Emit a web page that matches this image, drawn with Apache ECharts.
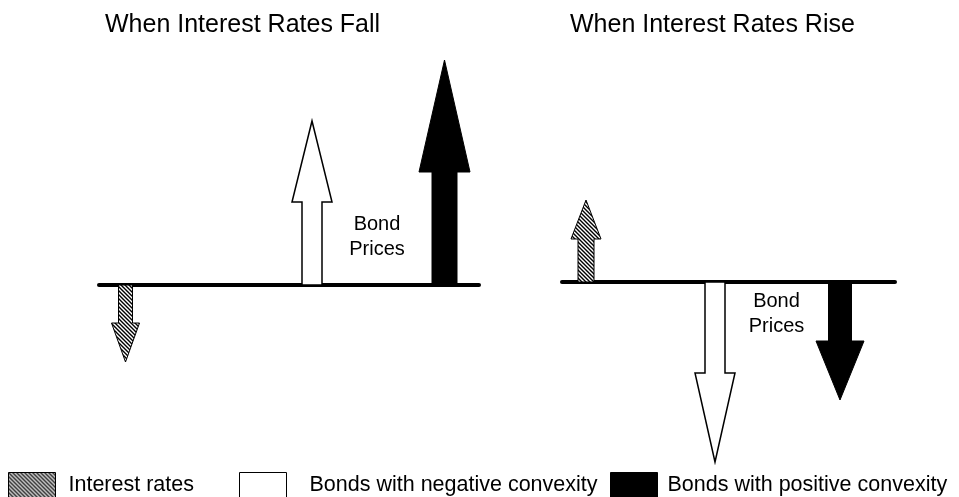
<!DOCTYPE html>
<html>
<head>
<meta charset="utf-8">
<title>Bond prices and convexity</title>
<script src="https://cdn.jsdelivr.net/npm/echarts@6/dist/echarts.min.js"></script>
<style>
html, body { margin: 0; padding: 0; background: #fff; }
#chart { width: 959px; height: 497px; }
</style>
</head>
<body>
<div id="chart"></div>
<script>
// size of each move, in chart units (about 1px each); up is +, down is -
const scenarios = ['When Interest Rates Fall', 'When Interest Rates Rise'];
const categories = ['Interest rates', 'Bonds with negative convexity', 'Bonds with positive convexity'];
const fallMoves = [-77, 164, 225];
const riseMoves = [82, -180, -118];
const priceLabel = 'Bond Prices';

const FONT = "'Liberation Sans', Arial, sans-serif";

function hatch() {
  const c = document.createElement('canvas');
  c.width = 4;
  c.height = 4;
  const ctx = c.getContext('2d');
  ctx.fillStyle = '#fff';
  ctx.fillRect(0, 0, 4, 4);
  ctx.strokeStyle = '#000';
  ctx.lineWidth = 1.4;
  ctx.beginPath();
  ctx.moveTo(-1, -1); ctx.lineTo(5, 5);
  ctx.moveTo(-1, 3); ctx.lineTo(1, 5);
  ctx.moveTo(3, -1); ctx.lineTo(5, 1);
  ctx.stroke();
  return c;
}

const hatchFill = { image: hatch(), repeat: 'repeat' };
const fills = [
  { fill: hatchFill, stroke: '#000', lineWidth: 1 },
  { fill: '#fff', stroke: '#000', lineWidth: 1.5 },
  { fill: '#000', stroke: '#000', lineWidth: 1 }
];

// panel layout (pixels)
const panels = [
  {
    moves: fallMoves,
    grid: { left: 99, top: 45, width: 380, height: 340 },
    yRange: [-100, 240],
    slots: [26.5, 213, 345.5],
    shaft: [14, 20, 25],
    head: [28, 40, 51],
    headLen: [39, 81, 112],
    label: [377, 237],
    titleLeft: 105
  },
  {
    moves: riseMoves,
    grid: { left: 562, top: 182, width: 333, height: 300 },
    yRange: [-200, 100],
    slots: [24, 153, 278],
    shaft: [16, 20, 23],
    head: [30, 40, 48],
    headLen: [39, 89, 59],
    label: [776.5, 314],
    titleLeft: 570
  }
];

function arrow(p, i) {
  return function (params, api) {
    const x = api.value(0);
    const v = api.value(1);
    const base = api.coord([x, 0]);
    const tip = api.coord([x, v]);
    const dir = tip[1] < base[1] ? 1 : -1;
    const hb = tip[1] + dir * p.headLen[i];
    const cx = base[0];
    const s = p.shaft[i] / 2;
    const h = p.head[i] / 2;
    return {
      type: 'polygon',
      shape: {
        points: [
          [cx - s, base[1]], [cx - s, hb], [cx - h, hb], [cx, tip[1]],
          [cx + h, hb], [cx + s, hb], [cx + s, base[1]]
        ]
      },
      style: fills[i]
    };
  };
}

const chart = echarts.init(document.getElementById('chart'));

const series = [];
panels.forEach((p, gi) => {
  categories.forEach((name, i) => {
    series.push({
      name: name,
      type: 'custom',
      xAxisIndex: gi,
      yAxisIndex: gi,
      z: 3,
      itemStyle: { color: i === 1 ? '#fff' : (i === 0 ? hatchFill : '#000'), borderColor: '#000' },
      renderItem: arrow(p, i),
      encode: { x: 0, y: 1 },
      data: [[p.slots[i], p.moves[i]]]
    });
  });
});

const legendLeft = [8, 239, 610];
const legendPad = [8, 18, 5];

chart.setOption({
  animation: false,
  backgroundColor: '#fff',
  title: scenarios.map((t, i) => ({
    text: t,
    left: panels[i].titleLeft,
    top: 13,
    padding: 0,
    textStyle: { fontFamily: FONT, fontSize: 25, fontWeight: 'normal', color: '#000' }
  })),
  legend: categories.map((name, i) => ({
    data: [{ name: name, itemStyle: { color: fills[i].fill, borderColor: '#000', borderWidth: 1 } }],
    left: legendLeft[i],
    top: 472,
    padding: 0,
    icon: 'rect',
    itemWidth: 47,
    itemHeight: 25,
    selectedMode: false,
    textStyle: { fontFamily: FONT, fontSize: 21.5, color: '#000', padding: [0, 0, 0, legendPad[i]] }
  })),
  grid: panels.map(p => p.grid),
  xAxis: panels.map((p, gi) => ({
    type: 'value',
    gridIndex: gi,
    min: 0,
    max: p.grid.width,
    axisLine: { show: true, onZero: true, lineStyle: { color: '#000', width: 4 } },
    axisTick: { show: false },
    axisLabel: { show: false },
    splitLine: { show: false }
  })),
  yAxis: panels.map((p, gi) => ({
    type: 'value',
    gridIndex: gi,
    min: p.yRange[0],
    max: p.yRange[1],
    show: false
  })),
  graphic: panels.map(p => ({
    type: 'text',
    x: p.label[0],
    y: p.label[1],
    style: {
      text: priceLabel.replace(' ', '\n'),
      fontFamily: FONT,
      fontSize: 20,
      lineHeight: 25,
      fill: '#000',
      align: 'center',
      verticalAlign: 'middle'
    }
  })),
  series: series
});
</script>
</body>
</html>
